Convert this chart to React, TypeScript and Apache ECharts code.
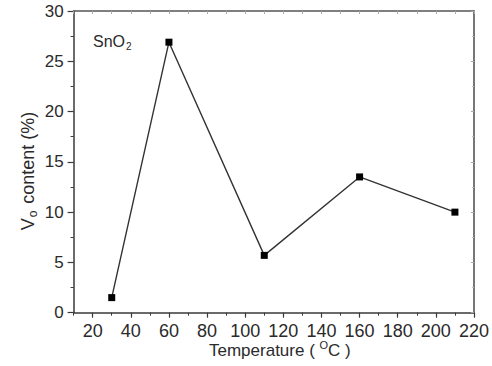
import React, { useEffect, useRef } from "react";
import * as echarts from "echarts";

// Oxygen-vacancy content of SnO2 versus treatment temperature
const temperatures: number[] = [30, 60, 110, 160, 210];
const vacancyContent: number[] = [1.5, 26.9, 5.7, 13.5, 10.0];

// Labelled temperature ticks and the unlabelled ones between them
const majorTempTicks: number[] = [20, 40, 60, 80, 100, 120, 140, 160, 180, 200, 220];
const minorTempTicks: number[] = [10, 30, 50, 70, 90, 110, 130, 150, 170, 190, 210];

const AXIS_COLOR = "#3a3a3a";
const TEXT_COLOR = "#2a2a2a";
const FONT = "Liberation Sans, Arial, sans-serif";

export default function App() {
  const ref = useRef<HTMLDivElement>(null);

  useEffect(() => {
    document.body.style.margin = "0";
    if (!ref.current) return;
    const chart = echarts.init(ref.current, null, { renderer: "svg" });

    const points = temperatures.map((t, i) => [t, vacancyContent[i]]);

    const mainAxisLine = { show: true, onZero: false, lineStyle: { color: AXIS_COLOR, width: 1.5 } };
    const mirrorAxisLine = { show: true, onZero: false, lineStyle: { color: "#555", width: 1.6 } };

    chart.setOption({
      animation: false,
      backgroundColor: "#ffffff",
      grid: { left: 73.6, right: 12, top: 11, bottom: 53.3, containLabel: false },
      xAxis: [
        {
          type: "value",
          min: 10,
          max: 220,
          interval: 10,
          position: "bottom",
          axisLine: mainAxisLine,
          axisTick: {
            show: true,
            inside: false,
            length: 5,
            customValues: majorTempTicks,
            lineStyle: { color: AXIS_COLOR, width: 1.2 },
          },
          splitLine: { show: false },
          axisLabel: {
            margin: 12,
            fontSize: 18,
            lineHeight: 13,
            fontFamily: FONT,
            color: TEXT_COLOR,
            customValues: majorTempTicks,
          },
        },
        {
          type: "value",
          min: 10,
          max: 220,
          interval: 10,
          position: "top",
          axisLine: mirrorAxisLine,
          axisTick: { show: true, inside: true, length: 3, lineStyle: { color: "#aaa", width: 1 } },
          splitLine: { show: false },
          axisLabel: { show: false },
        },
        {
          // short ticks between the labelled temperatures
          type: "value",
          min: 10,
          max: 220,
          interval: 10,
          position: "bottom",
          axisLine: { show: false },
          axisTick: {
            show: true,
            inside: false,
            length: 3,
            customValues: minorTempTicks,
            lineStyle: { color: AXIS_COLOR, width: 1 },
          },
          splitLine: { show: false },
          axisLabel: { show: false },
        },
      ],
      yAxis: [
        {
          type: "value",
          min: 0,
          max: 30,
          interval: 5,
          position: "left",
          axisLine: mainAxisLine,
          axisTick: { show: true, inside: false, length: 6, lineStyle: { color: AXIS_COLOR, width: 1.2 } },
          minorTick: { show: true, splitNumber: 2, length: 3, lineStyle: { color: AXIS_COLOR, width: 1 } },
          splitLine: { show: false },
          axisLabel: { margin: 10, fontSize: 17, fontFamily: FONT, color: TEXT_COLOR },
        },
        {
          type: "value",
          min: 0,
          max: 30,
          interval: 5,
          position: "right",
          axisLine: mirrorAxisLine,
          axisTick: { show: true, inside: true, length: 3, lineStyle: { color: "#aaa", width: 1 } },
          minorTick: { show: true, splitNumber: 2, length: 2, lineStyle: { color: "#bbb", width: 1 } },
          splitLine: { show: false },
          axisLabel: { show: false },
        },
      ],
      series: [
        {
          type: "line",
          xAxisIndex: 0,
          yAxisIndex: 0,
          data: points,
          symbol: "rect",
          symbolSize: 7,
          itemStyle: { color: "#000000" },
          lineStyle: { color: "#333333", width: 1.4 },
          silent: true,
        },
      ],
      graphic: [
        {
          type: "text",
          left: 93,
          top: 32,
          style: {
            text: "{a|SnO}{s|2}",
            rich: {
              a: { fontSize: 16, fontFamily: FONT, fill: TEXT_COLOR, lineHeight: 20 },
              s: { fontSize: 10, fontFamily: FONT, fill: TEXT_COLOR, verticalAlign: "bottom", lineHeight: 20, padding: [9, 0, 0, 1] },
            },
          },
        },
        {
          type: "text",
          left: 209,
          top: 339,
          style: {
            text: "{a|Temperature ( }{s|O}{a|C )}",
            rich: {
              a: { fontSize: 17, fontFamily: FONT, fill: TEXT_COLOR, lineHeight: 20, verticalAlign: "bottom" },
              s: { fontSize: 11, fontFamily: FONT, fill: TEXT_COLOR, lineHeight: 12, verticalAlign: "top" },
            },
          },
        },
        {
          type: "text",
          x: 28,
          y: 171,
          rotation: Math.PI / 2,
          style: {
            text: "{a|V}{s|o}{a| content (%)}",
            align: "center",
            verticalAlign: "middle",
            rich: {
              a: { fontSize: 18, fontFamily: FONT, fill: TEXT_COLOR, lineHeight: 22 },
              s: { fontSize: 12, fontFamily: FONT, fill: TEXT_COLOR, lineHeight: 22, verticalAlign: "bottom", padding: [10, 2, 0, 1] },
            },
          },
        },
      ],
    });

    return () => chart.dispose();
  }, []);

  return <div ref={ref} style={{ width: 492, height: 366 }} />;
}
